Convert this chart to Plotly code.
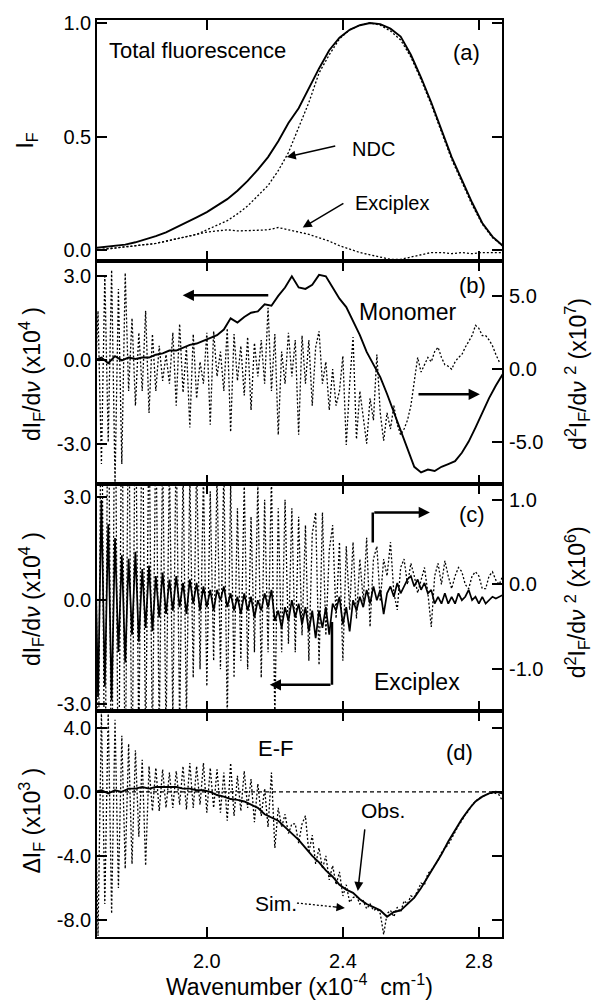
import plotly.graph_objects as go

FONT = "Liberation Sans, Arial, Helvetica, sans-serif"

# ---------------- data ----------------
# panel (a): total fluorescence (solid), NDC (dotted), exciplex (dotted)
xa = [round(1.67 + 0.03 * i, 2) for i in range(41)]
total_a = [0.01, 0.015, 0.02, 0.025, 0.035, 0.048, 0.062, 0.079, 0.100, 0.122,
           0.145, 0.168, 0.195, 0.225, 0.262, 0.305, 0.355, 0.41, 0.48, 0.56,
           0.625, 0.715, 0.80, 0.88, 0.935, 0.97, 0.99, 1.0, 0.995, 0.975,
           0.94, 0.86, 0.76, 0.65, 0.53, 0.41, 0.31, 0.21, 0.12, 0.06, 0.02]
ndc_a = [0.0, 0.005, 0.01, 0.015, 0.02, 0.025, 0.03, 0.04, 0.05, 0.06,
         0.07, 0.09, 0.11, 0.13, 0.16, 0.195, 0.24, 0.285, 0.35, 0.43,
         0.54, 0.65, 0.78, 0.86, 0.93, 0.97, 0.99, 1.0, 0.99, 0.965,
         0.925, 0.85, 0.75, 0.64, 0.52, 0.40, 0.30, 0.20, 0.115, 0.055, 0.02]
exc_a = [0.0, 0.005, 0.01, 0.015, 0.02, 0.025, 0.03, 0.04, 0.05, 0.06,
         0.07, 0.08, 0.085, 0.09, 0.085, 0.085, 0.088, 0.09, 0.10, 0.09,
         0.08, 0.07, 0.055, 0.04, 0.02, 0.005, -0.01, -0.02, -0.03, -0.04,
         -0.04, -0.03, -0.02, -0.01, -0.01, -0.015, -0.01, -0.015, -0.01, -0.01, -0.01]

# panel (b): monomer dI/dv (solid, left) and d2I/dv2 (dotted, right)
xb_s = [round(1.67 + 0.02 * i, 2) for i in range(61)]
mono_d1 = [0.0, 0.1, -0.1, 0.15, 0.0, 0.1, 0.05, 0.1, 0.1, 0.2,
           0.25, 0.35, 0.35, 0.45, 0.55, 0.6, 0.7, 0.8, 0.9, 1.1,
           1.5, 1.35, 1.55, 1.7, 1.75, 2.0, 1.95, 2.3, 2.6, 3.0,
           2.6, 2.55, 2.7, 3.05, 3.0, 2.6, 2.2, 1.9, 1.4, 0.9,
           0.3, -0.15, -0.6, -1.2, -1.85, -2.55, -3.2, -3.8, -4.0, -3.9,
           -3.95, -3.8, -3.7, -3.6, -3.3, -2.9, -2.4, -1.85, -1.35, -0.9, -0.5]
xb_d = [round(1.67 + 0.01 * i, 2) for i in range(120)]
mono_d2 = [-2.0, 4.0, -6.5, 6.5, -5.0, 6.8, -7.9, 5.5, -6.5, 6.6,
           -1.5, 3.5, -2.5, 2.5, -1.5, 4.0, -3.0, 2.4, -1.5, 1.6,
           -0.8, 1.0, -1.0, 2.5, -2.5, 3.1, -1.6, 1.5, -4.0, 2.4,
           -2.0, 0.5, -1.0, 2.5, -3.8, 2.6, -0.5, 1.2, -1.5, 2.8,
           -4.3, 2.4, -0.8, 1.6, -1.8, 2.2, -2.8, 1.8, -0.5, 2.0,
           -1.0, 4.2, -1.5, 2.4, -4.5, 1.2, -1.0, 2.5, -0.5, 2.0,
           -4.5, 2.3, -1.0, 2.0, -2.5, 1.5, 2.6, -1.0, 0.5, -2.8,
           0.0, -2.5, -1.5, 0.9, -5.2, -1.0, 2.2, -4.8, -1.5, -3.5,
           -5.1, -2.0, -3.5, 1.0, -3.0, -4.9, -3.0, -4.1, -2.5, -3.8,
           -4.5, -4.1, -3.5, -2.5, -1.0, 0.8, -0.2, 0.3, 0.8, 0.5,
           1.2, 1.5, 0.8, 0.3, 0.2, 0.0, 0.5, 0.8, 1.0, 1.5,
           1.9, 2.3, 3.0, 2.8, 2.3, 2.3, 2.0, 1.6, 1.0, 0.5]

# panel (c): exciplex dI/dv (solid, left) and d2I/dv2 (dotted, right)
xc = [round(1.67 + 0.01 * i, 2) for i in range(121)]
exc_d1 = [2.5, -2.8, 2.9, -2.5, 2.2, -2.9, 1.8, -1.5, 1.3, -1.8,
          1.2, -1.0, 1.4, -1.2, 0.9, -0.8, 1.0, -0.9, 0.7, -0.5,
          0.8, -0.4, 0.6, -0.3, 0.7, -0.2, 0.5, -0.4, 0.6, -0.1,
          0.5, -0.3, 0.4, -0.2, 0.3, -0.3, 0.3, 0.0, 0.4, -0.2,
          0.2, -0.3, 0.1, -0.4, 0.2, -0.3, 0.1, -0.5, 0.0, -0.3,
          0.2, -0.2, 0.3, -0.6, -0.3, -0.8, -0.2, -0.6, 0.0, -0.5,
          -0.1, -0.7, -0.2, -0.9, -0.3, -1.1, -0.3, -0.8, -0.2, -1.0,
          -0.1, -0.3, 0.1, -0.7, -0.2, -0.9, 0.0, -0.3, 0.1, -0.2,
          0.3, -0.1, 0.4, 0.0, 0.3, -0.4, 0.2, 0.4, 0.1, 0.5,
          0.2, 0.4, 0.6, 0.7, 0.4, 0.6, 0.3, 0.5, 0.2, 0.3,
          -0.1, 0.1, -0.1, 0.2, -0.1, 0.1, -0.1, 0.2, 0.0, 0.1,
          0.3, 0.0, 0.1, -0.1, 0.1, -0.1, 0.0, 0.1, 0.05, 0.1, 0.15]
exc_d2 = [3.0, -3.0, 3.0, -3.0, 3.0, -3.0, 3.0, -3.0, 2.5, -2.5,
          2.5, -2.5, 2.5, -2.0, 2.5, -2.0, 2.0, -2.0, 2.0, -1.8,
          1.6, -1.8, 1.5, -1.6, 1.8, -1.7, 1.4, -1.6, 1.3, -1.1,
          1.5, -1.0, 1.3, -1.2, 1.1, -0.9, 1.3, -1.0, 1.4, -1.6,
          1.2, -1.1, 0.9, -0.9, 1.2, -1.0, 0.8, -0.8, 1.2, -1.1,
          1.0, -0.8, 1.3, -1.6, 0.9, -0.8, 1.0, -0.7, 0.9, -0.8,
          0.8, -0.6, 0.7, -0.9, 0.6, 0.85, -0.95, 0.85, -0.6, 0.4,
          0.7, -0.4, 0.5, -0.9, 0.45, -0.3, 0.5, -0.4, 0.3, -0.2,
          0.55, -0.5, 0.3, 0.45, -0.2, 0.3, 0.1, 0.5, -0.1, -0.3,
          0.2, 0.3, 0.0, 0.25, 0.1, -0.1, 0.05, 0.2, -0.1, -0.5,
          0.1, 0.25, 0.0, 0.28, 0.1, -0.05, 0.1, 0.2, 0.15, 0.0,
          -0.05, 0.1, 0.15, 0.1, -0.05, -0.05, 0.1, 0.15, 0.05, 0.0, 0.1]

# panel (d): E-F difference, observed (solid) and simulated (dotted)
xd_s = [round(1.67 + 0.02 * i, 2) for i in range(61)]
ef_obs = [0.0, 0.1, -0.1, 0.1, 0.0, 0.2, 0.2, 0.3, 0.2, 0.3,
          0.3, 0.3, 0.3, 0.2, 0.2, 0.1, 0.1, 0.0, -0.2, -0.3,
          -0.45, -0.5, -0.6, -0.8, -1.0, -1.4, -1.6, -1.8, -2.2, -2.6,
          -3.0, -3.5, -4.0, -4.4, -4.9, -5.3, -5.8, -6.1, -6.3, -6.7,
          -7.0, -7.2, -7.4, -7.8, -7.5, -7.4, -7.0, -6.6, -6.0, -5.3,
          -4.6, -3.9, -3.1, -2.4, -1.7, -1.1, -0.6, -0.3, -0.1, 0.0, -0.1]
xd_d = [round(1.67 + 0.01 * i, 2) for i in range(121)]
ef_sim = [2.0, -9.0, 5.0, -7.0, 5.0, -7.6, 4.5, -6.0, 3.5, -4.8,
          3.0, -4.5, 2.6, -2.8, 2.0, -4.6, 1.6, -1.2, 1.5, -1.2,
          1.4, -1.0, 1.2, -1.0, 1.3, -0.8, 1.6, -1.1, 1.8, -1.0,
          1.6, -0.8, 1.8, -1.3, 1.5, -1.0, 1.4, -1.3, 1.2, -1.8,
          1.8, -1.5, 1.0, -1.2, 1.3, -1.0, 0.8, -1.9, 0.5, -1.5,
          0.2, -2.2, 1.2, -3.5, -1.0, -2.2, -1.4, -2.6, -2.0, -2.0,
          -3.2, -2.0, -1.5, -3.8, -2.7, -4.5, -3.5, -4.8, -4.0, -5.5,
          -4.6, -5.8, -5.0, -6.5, -5.8, -6.9, -6.6, -6.5, -7.0, -6.8,
          -7.3, -7.0, -7.4, -7.3, -7.6, -8.9, -7.6, -7.4, -7.8, -7.2,
          -7.5, -6.8, -7.0, -6.5, -6.6, -6.2, -5.7, -5.8, -5.1, -4.9,
          -4.6, -4.3, -3.8, -3.5, -3.3, -2.9, -2.6, -2.1, -1.8, -1.4,
          -1.2, -0.8, -0.6, -0.4, -0.3, -0.2, -0.1, -0.1, -0.1, -0.2, -0.6]

# ticks
x_tickvals = [2.0, 2.4, 2.8]
x_ticktext = ["2.0", "2.4", "2.8"]
ya_vals, ya_text = [0.0, 0.5, 1.0], ["0.0", "0.5", "1.0"]
yb_vals, yb_text = [-3.0, 0.0, 3.0], ["-3.0", "0.0", "3.0"]
yb2_vals, yb2_text = [-5.0, 0.0, 5.0], ["-5.0", "0.0", "5.0"]
yc_vals, yc_text = [-3.0, 0.0, 3.0], ["-3.0", "0.0", "3.0"]
yc2_vals, yc2_text = [-1.0, 0.0, 1.0], ["-1.0", "0.0", "1.0"]
yd_vals, yd_text = [-8.0, -4.0, 0.0, 4.0], ["-8.0", "-4.0", "0.0", "4.0"]

# ---------------- figure ----------------
SOLID = dict(color="black", width=1.9)
DOT = dict(color="black", width=1.3, dash="2px,2px")

fig = go.Figure()
fig.add_trace(go.Scatter(x=xa, y=total_a, mode="lines", line=SOLID, xaxis="x", yaxis="y"))
fig.add_trace(go.Scatter(x=xa, y=ndc_a, mode="lines", line=DOT, xaxis="x", yaxis="y"))
fig.add_trace(go.Scatter(x=xa, y=exc_a, mode="lines", line=DOT, xaxis="x", yaxis="y"))

fig.add_trace(go.Scatter(x=xb_d, y=mono_d2, mode="lines", line=DOT, xaxis="x2", yaxis="y5"))
fig.add_trace(go.Scatter(x=xb_s, y=mono_d1, mode="lines", line=SOLID, xaxis="x2", yaxis="y2"))

fig.add_trace(go.Scatter(x=xc, y=exc_d2, mode="lines", line=DOT, xaxis="x3", yaxis="y6"))
fig.add_trace(go.Scatter(x=xc, y=exc_d1, mode="lines", line=dict(color="black", width=1.7), xaxis="x3", yaxis="y3"))

fig.add_trace(go.Scatter(x=xd_d, y=ef_sim, mode="lines", line=DOT, xaxis="x4", yaxis="y4"))
fig.add_trace(go.Scatter(x=xd_s, y=ef_obs, mode="lines", line=SOLID, xaxis="x4", yaxis="y4"))

XR = [1.677, 2.868]
tickfont = dict(family=FONT, size=20, color="black")


def xax(anchor, labels):
    return dict(domain=[0, 1], range=XR, anchor=anchor, showline=True, linecolor="black",
                linewidth=1.5, mirror="ticks", ticks="inside", ticklen=10, tickwidth=1.5,
                tickcolor="black", tickvals=x_tickvals, ticktext=x_ticktext,
                showticklabels=labels, showgrid=False, zeroline=False, tickfont=tickfont,
                ticklabelstandoff=5)


def yax(domain, rng, vals, text, anchor, mirror):
    return dict(domain=domain, range=rng, anchor=anchor, showline=True, linecolor="black",
                linewidth=1.5, mirror=mirror, ticks="inside", ticklen=10, tickwidth=1.5,
                tickcolor="black", tickvals=vals, ticktext=text, showgrid=False,
                zeroline=False, tickfont=tickfont)


def yax_right(over, rng, vals, text, anchor):
    return dict(overlaying=over, side="right", range=rng, anchor=anchor, showline=False,
                ticks="inside", ticklen=10, tickwidth=1.5, tickcolor="black",
                tickvals=vals, ticktext=text, showgrid=False, zeroline=False,
                tickfont=tickfont, ticklabelstandoff=6)


dom_a = [0.737, 1.0]
dom_b = [0.4935, 0.737]
dom_c = [0.2467, 0.4935]
dom_d = [0.0, 0.2467]

fig.update_layout(
    width=594, height=1004,
    margin=dict(l=97, r=92, t=17, b=67),
    paper_bgcolor="white", plot_bgcolor="white",
    showlegend=False,
    font=dict(family=FONT, color="black"),
    xaxis=xax("y", False),
    xaxis2=xax("y2", False),
    xaxis3=xax("y3", False),
    xaxis4=xax("y4", True),
    yaxis=yax(dom_a, [-0.048, 1.013], ya_vals, ya_text, "x", "ticks"),
    yaxis2=yax(dom_b, [-4.43, 3.54], yb_vals, yb_text, "x2", True),
    yaxis3=yax(dom_c, [-3.2, 3.35], yc_vals, yc_text, "x3", True),
    yaxis4=yax(dom_d, [-9.06, 5.06], yd_vals, yd_text, "x4", "ticks"),
    yaxis5=yax_right("y2", [-7.9, 7.4], yb2_vals, yb2_text, "x2"),
    yaxis6=yax_right("y3", [-1.49, 1.18], yc2_vals, yc2_text, "x3"),
)


def txt(text, x, y, xref, yref, size, xanchor="center", angle=0):
    return dict(text=text, x=x, y=y, xref=xref, yref=yref, showarrow=False,
                font=dict(family=FONT, size=size, color="black"),
                xanchor=xanchor, yanchor="middle", textangle=angle)


def arrow(x, y, ax, ay, xref, yref, width=2.0, size=1.0):
    return dict(text="", x=x, y=y, ax=ax, ay=ay, xref=xref, yref=yref, axref=xref,
                ayref=yref, showarrow=True, arrowhead=2, arrowsize=size,
                arrowwidth=width, arrowcolor="black")


anns = [
    # panel a
    txt("Total fluorescence", 1.706, 0.877, "x", "y", 22, "left"),
    txt("(a)", 2.765, 0.868, "x", "y", 22),
    txt("NDC", 2.42, 0.447, "x", "y", 20, "left"),
    arrow(2.235, 0.41, 2.382, 0.46, "x", "y", 1.5, 1.2),
    txt("Exciplex", 2.429, 0.206, "x", "y", 20, "left"),
    arrow(2.282, 0.10, 2.406, 0.21, "x", "y", 1.5, 1.2),
    # panel b
    txt("(b)", 2.782, 2.68, "x2", "y2", 22),
    txt("Monomer", 2.441, 1.71, "x2", "y2", 23, "left"),
    arrow(1.929, 2.32, 2.185, 2.32, "x2", "y2", 2.5, 0.9),
    arrow(2.803, -1.21, 2.618, -1.21, "x2", "y2", 2.5, 0.9),
    # panel c
    txt("(c)", 2.779, 2.48, "x3", "y3", 22),
    txt("Exciplex", 2.485, -2.36, "x3", "y3", 23, "left"),
    arrow(2.656, 2.54, 2.488, 2.54, "x3", "y3", 2.5, 0.9),
    arrow(2.185, -2.45, 2.368, -2.45, "x3", "y3", 2.5, 0.9),
    # panel d
    txt("E-F", 2.203, 2.69, "x4", "y4", 22),
    txt("(d)", 2.744, 2.44, "x4", "y4", 22),
    txt("Obs.", 2.518, -1.19, "x4", "y4", 21),
    arrow(2.444, -6.19, 2.465, -2.25, "x4", "y4", 1.5, 1.2),
    txt("Sim.", 2.203, -6.94, "x4", "y4", 21),
    arrow(2.406, -7.25, 2.37, -7.17, "x4", "y4", 1.3, 1.3),
    # axis titles
    txt("I<sub>F</sub>", -0.173, 0.8685, "paper", "paper", 23, angle=-90),
    txt("dI<sub>F</sub>/d<i>ν</i> (x10<sup>4</sup> )", -0.163, 0.614, "paper", "paper", 23, angle=-90),
    txt("dI<sub>F</sub>/d<i>ν</i> (x10<sup>4</sup> )", -0.163, 0.3685, "paper", "paper", 23, angle=-90),
    txt("ΔI<sub>F</sub> (x10<sup>3</sup> )", -0.163, 0.127, "paper", "paper", 23, angle=-90),
    txt("d<sup>2</sup>I<sub>F</sub>/d<i>ν</i> <sup>2</sup> (x10<sup>7</sup>)", 1.185, 0.614, "paper", "paper", 23, angle=-90),
    txt("d<sup>2</sup>I<sub>F</sub>/d<i>ν</i> <sup>2</sup> (x10<sup>6</sup>)", 1.185, 0.365, "paper", "paper", 23, angle=-90),
    txt("Wavenumber (x10<sup>-4</sup>  cm<sup>-1</sup>)", 0.5, -0.052, "paper", "paper", 23),
]
fig.update_layout(annotations=anns)

shapes = [
    # zero line in panel d
    dict(type="line", xref="x4", yref="y4", x0=XR[0], x1=XR[1], y0=0, y1=0,
         line=dict(color="black", width=1.2, dash="4px,3px"), layer="below"),
    # vertical parts of the bent arrows in panel c
    dict(type="line", xref="x3", yref="y3", x0=2.488, x1=2.488, y0=1.67, y1=2.54,
         line=dict(color="black", width=2.5)),
    dict(type="line", xref="x3", yref="y3", x0=2.368, x1=2.368, y0=-0.63, y1=-2.45,
         line=dict(color="black", width=2.5)),
    # dotted shaft of the "Sim." arrow
    dict(type="line", xref="x4", yref="y4", x0=2.265, x1=2.375, y0=-6.94, y1=-7.18,
         line=dict(color="black", width=1.3, dash="2px,2px")),
]
fig.update_layout(shapes=shapes)

fig.write_html("out.html", config={"displayModeBar": False},
               post_script="document.body.style.margin='0';")
